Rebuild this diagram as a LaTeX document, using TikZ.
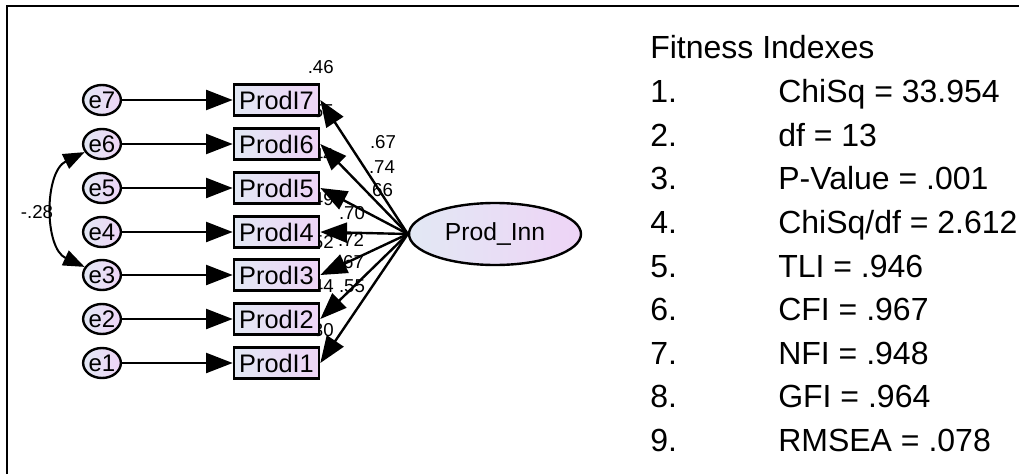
\documentclass[tikz,border=0pt]{standalone}
\usepackage{fontspec}
\setmainfont{Liberation Sans}
\usetikzlibrary{arrows.meta,shapes.geometric}
\definecolor{fillL}{RGB}{226,232,244}
\definecolor{fillR}{RGB}{238,212,246}
\begin{document}
\begin{tikzpicture}[x=0.75pt,y=-0.75pt,
  obs/.style={draw,line width=2pt,minimum width=63.75pt,minimum height=23.25pt,inner sep=0pt,
    left color=fillL,right color=fillR,font=\fontsize{19}{19}\selectfont},
  err/.style={ellipse,draw,line width=1.8pt,minimum width=20pt,minimum height=22.5pt,inner sep=0pt,
    left color=fillL,right color=fillR,font=\fontsize{18}{18}\selectfont},
  lat/.style={ellipse,draw,line width=1.8pt,minimum width=129pt,minimum height=46.5pt,inner sep=0pt,
    left color=fillL,right color=fillR,font=\fontsize{18.5}{18.5}\selectfont},
  lbl/.style={font=\fontsize{14}{14}\selectfont,inner sep=0pt},
  arr/.style={line width=1.8pt,-{Triangle[length=20pt,width=15pt]}},
  cov/.style={line width=1.5pt,{Triangle[length=16pt,width=12pt]}-{Triangle[length=16pt,width=12pt]}},
  fit/.style={anchor=base west,font=\fontsize{24}{24}\selectfont,inner sep=0pt},
  frame/.style={line width=1.6pt}
]
\useasboundingbox (0,0) rectangle (1019,474);
% frame
\coordinate (fa) at (7,474);
\coordinate (fb) at (7,6);
\coordinate (fc) at (1019,6);
\draw[frame] (fa) -- (fb) -- (fc);

% squared multiple correlations (partly hidden by boxes)
\node[lbl,anchor=east] (r7) at (334,67) {.46};
\node[lbl,anchor=east] (r6) at (334,111) {.55};
\node[lbl,anchor=east] (r5) at (334,155) {.44};
\node[lbl,anchor=east] (r4) at (334,199) {.49};
\node[lbl,anchor=east] (r3) at (334,242) {.52};
\node[lbl,anchor=east] (r2) at (334,286) {.44};
\node[lbl,anchor=east] (r1) at (334,330) {.30};

% error terms
\node[err] (e7) at (102,100) {e7};
\node[err] (e6) at (102,144) {e6};
\node[err] (e5) at (102,188) {e5};
\node[err] (e4) at (102,232) {e4};
\node[err] (e3) at (102,275) {e3};
\node[err] (e2) at (102,319) {e2};
\node[err] (e1) at (102,363) {e1};

% observed variables
\node[obs] (b7) at (276.5,100) {ProdI7};
\node[obs] (b6) at (276.5,144) {ProdI6};
\node[obs] (b5) at (276.5,188) {ProdI5};
\node[obs] (b4) at (276.5,232) {ProdI4};
\node[obs] (b3) at (276.5,275) {ProdI3};
\node[obs] (b2) at (276.5,319) {ProdI2};
\node[obs] (b1) at (276.5,363) {ProdI1};

% latent
\node[lat] (pi) at (495,234) {Prod\_Inn};

% error arrows
\foreach \i in {1,...,7} {\draw[arr] (e\i) -- (b\i);}

% loadings arrows
\foreach \i in {1,...,7} {\draw[arr] (pi.west) -- (b\i.east);}

% covariance
\draw[cov] (e6.205) .. controls (44,172) and (44,248) .. (e3.155);
\node[lbl] (c63) at (37,212) {-.28};

% loading labels
\node[lbl] (l7) at (383,142) {.67};
\node[lbl] (l6) at (382,167) {.74};
\node[lbl] (l5) at (380,190) {.66};
\node[lbl] (l4) at (352,213) {.70};
\node[lbl] (l3) at (351,240) {.72};
\node[lbl] (l2) at (351,262) {.67};
\node[lbl] (l1) at (352,286) {.55};

% fitness indexes
\node[fit] (ft) at (650,59) {Fitness Indexes};
\node[fit] (n1) at (650,102.6) {1.};
\node[fit] (v1) at (778,102.6) {ChiSq = 33.954};
\node[fit] (n2) at (650,146.2) {2.};
\node[fit] (v2) at (778,146.2) {df = 13};
\node[fit] (n3) at (650,189.8) {3.};
\node[fit] (v3) at (778,189.8) {P-Value = .001};
\node[fit] (n4) at (650,233.4) {4.};
\node[fit] (v4) at (778,233.4) {ChiSq/df = 2.612};
\node[fit] (n5) at (650,277) {5.};
\node[fit] (v5) at (778,277) {TLI = .946};
\node[fit] (n6) at (650,320.6) {6.};
\node[fit] (v6) at (778,320.6) {CFI = .967};
\node[fit] (n7) at (650,364.2) {7.};
\node[fit] (v7) at (778,364.2) {NFI = .948};
\node[fit] (n8) at (650,407.8) {8.};
\node[fit] (v8) at (778,407.8) {GFI = .964};
\node[fit] (n9) at (650,451.4) {9.};
\node[fit] (v9) at (778,451.4) {RMSEA = .078};
\end{tikzpicture}
\end{document}
